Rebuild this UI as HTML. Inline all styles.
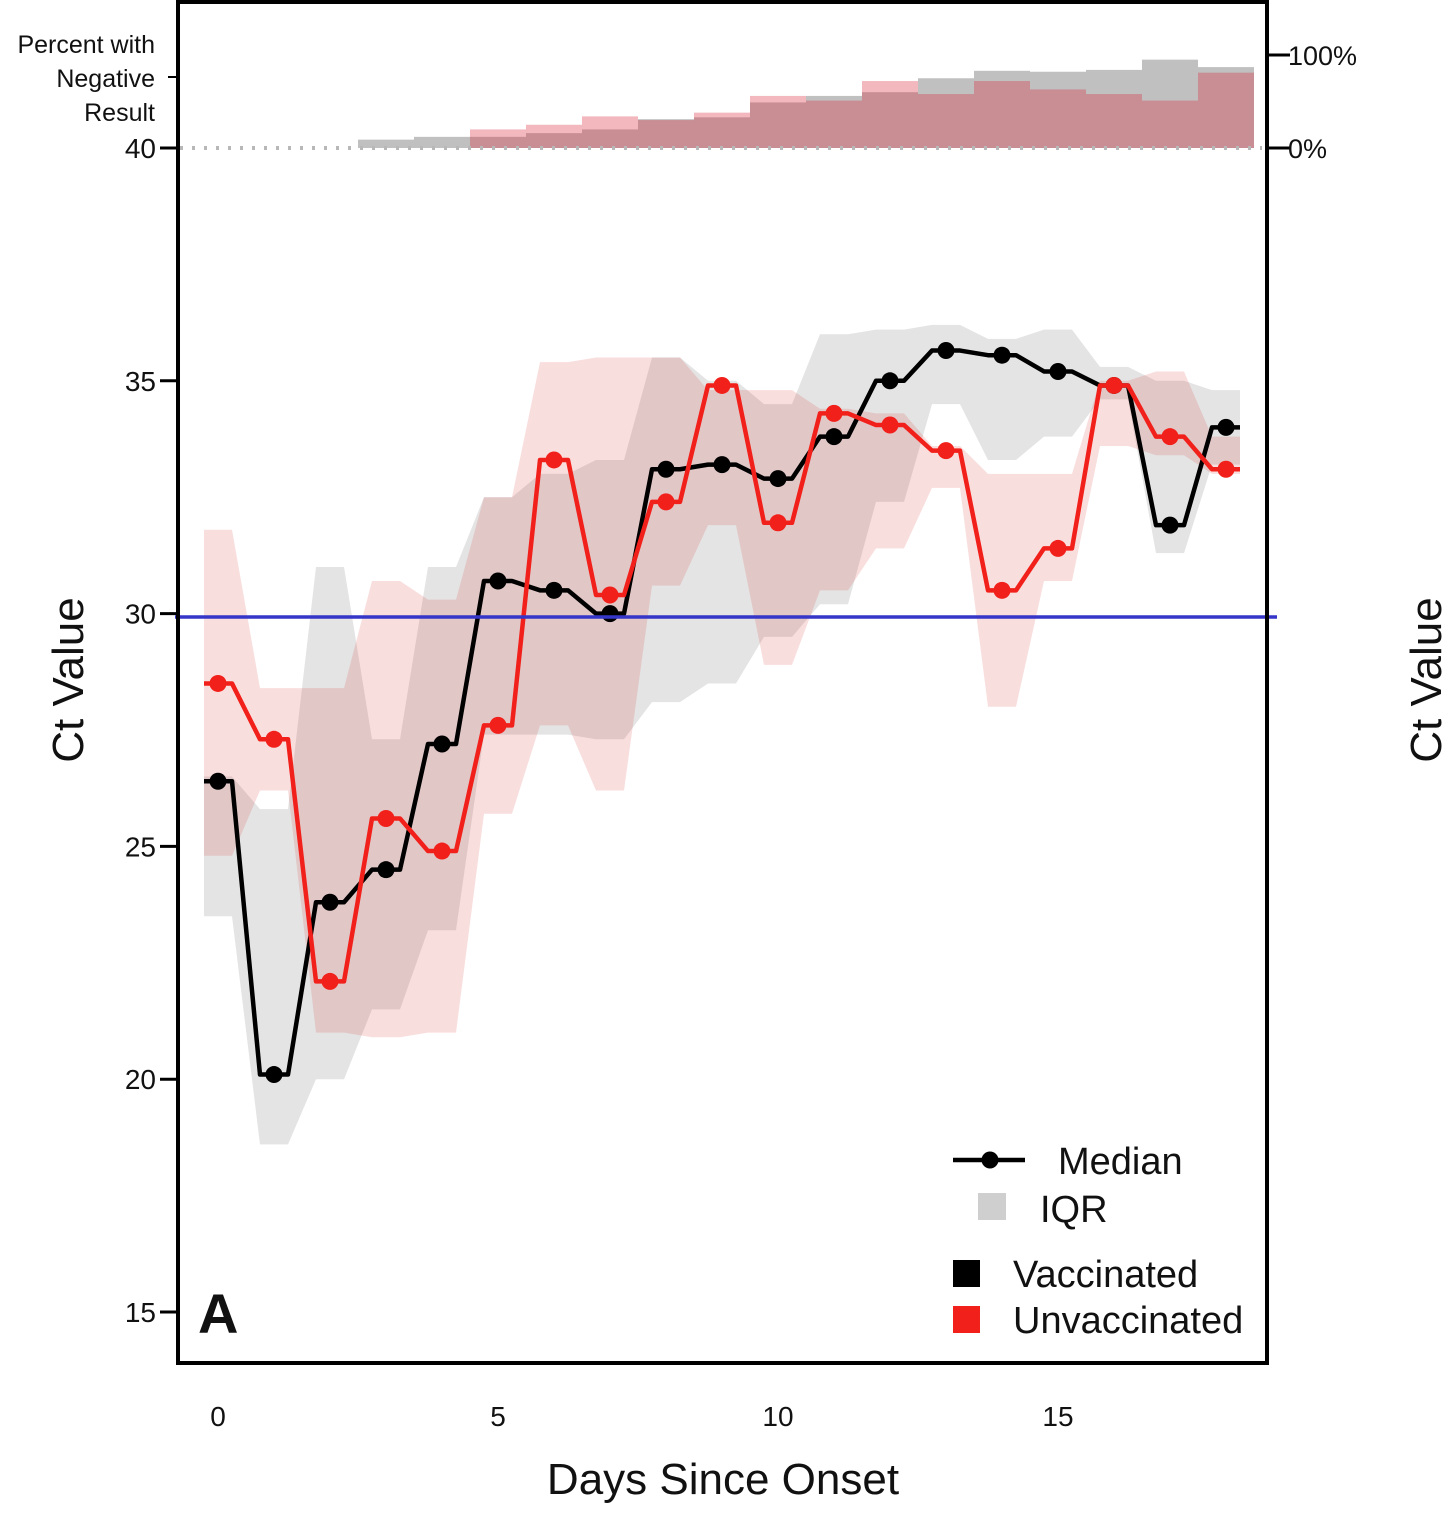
<!DOCTYPE html>
<html><head><meta charset="utf-8"><style>
html,body{margin:0;padding:0;background:#fff;}
svg text{font-family:"Liberation Sans",Arial,sans-serif;fill:#111;}
</style></head><body>
<svg id="chart" width="1456" height="1519" viewBox="0 0 1456 1519" xmlns="http://www.w3.org/2000/svg">
<g id="bands"></g>
<g id="hist"></g>
<line x1="180" y1="148" x2="1262" y2="148" stroke="#b8b8b8" stroke-width="4" stroke-dasharray="3,9"/>
<g id="lines"></g>
<line x1="175" y1="617" x2="1277" y2="617" stroke="#3535c8" stroke-width="3.5"/>
<rect x="178" y="2" width="1089" height="1361" fill="none" stroke="#000" stroke-width="4"/>
<g id="axes"></g>
<g font-size="25" text-anchor="end">
<text x="155" y="53">Percent with</text><text x="155" y="87">Negative</text><text x="155" y="121">Result</text></g>
<text x="723" y="1494" font-size="44" text-anchor="middle">Days Since Onset</text>
<text transform="translate(83,680) rotate(-90)" font-size="44" text-anchor="middle">Ct Value</text>
<text transform="translate(1441,680) rotate(-90)" font-size="44" text-anchor="middle">Ct Value</text>
<text x="198" y="1333" font-size="56" font-weight="bold">A</text>
<g>
<line x1="953" y1="1160" x2="1025" y2="1160" stroke="#000" stroke-width="4.5"/>
<circle cx="990" cy="1160" r="8.5" fill="#000"/>
<text x="1058" y="1174" font-size="38">Median</text>
<rect x="978" y="1193" width="28" height="27" fill="#cfcfcf"/>
<text x="1040" y="1222" font-size="38">IQR</text>
<rect x="953" y="1260" width="27" height="27" fill="#000"/>
<text x="1013" y="1287" font-size="38">Vaccinated</text>
<rect x="953" y="1306" width="27" height="27" fill="#f2201a"/>
<text x="1013" y="1333" font-size="38">Unvaccinated</text>
</g>
</svg>
<script>
const days=[0,1,2,3,4,5,6,7,8,9,10,11,12,13,14,15,16,17,18];
const vaxMedian=[26.4,20.1,23.8,24.5,27.2,30.7,30.5,30.0,33.1,33.2,32.9,33.8,35.0,35.65,35.55,35.2,34.9,31.9,34.0];
const unvaxMedian=[28.5,27.3,22.1,25.6,24.9,27.6,33.3,30.4,32.4,34.9,31.95,34.3,34.05,33.5,30.5,31.4,34.9,33.8,33.1];
const vaxQ1=[23.5,18.6,20.0,21.5,23.2,27.4,27.4,27.3,28.1,28.5,29.5,30.2,32.4,34.5,33.3,33.8,34.6,31.3,33.2];
const vaxQ3=[26.5,25.8,31.0,27.3,31.0,32.5,33.0,33.3,35.5,35.0,34.5,36.0,36.1,36.2,35.9,36.1,35.3,35.0,34.8];
const unvaxQ1=[24.8,26.2,21.0,20.9,21.0,25.7,27.6,26.2,30.6,31.9,28.9,30.5,31.4,32.7,28.0,30.7,33.6,33.4,33.0];
const unvaxQ3=[31.8,28.4,28.4,30.7,30.3,32.5,35.4,35.5,35.5,34.8,34.8,34.4,34.3,33.6,33.0,33.0,35.0,35.2,33.8];
const histDays=[3,4,5,6,7,8,9,10,11,12,13,14,15,16,17,18];
const vaxNeg=[9,12,12,16,20,31,33,49,56,60,75,83,82,84,95,87];
const unvaxNeg=[0,0,20,25,34,30,38,56,51,72,58,72,63,58,51,81];
const yTicks=[15,20,25,30,35,40];
const xTicks=[0,5,10,15];
const X=d=>218+56*d;
const Y=v=>148+(40-v)*46.56;
const P=p=>148-p*0.93;
const NS="http://www.w3.org/2000/svg";
function mk(tag,attrs,parent){const e=document.createElementNS(NS,tag);for(const k in attrs)e.setAttribute(k,attrs[k]);parent.appendChild(e);return e;}
function stepPts(vals){const pts=[];days.forEach((d,i)=>{pts.push([X(d-0.25),Y(vals[i])]);pts.push([X(d+0.25),Y(vals[i])]);});return pts;}
const bands=document.getElementById('bands');
function band(q1,q3,fill,name){const top=stepPts(q3),bot=stepPts(q1).reverse();
const p=mk('polygon',{points:top.concat(bot).map(a=>a.join(',')).join(' '),fill:fill},bands);

}
band(vaxQ1,vaxQ3,'#e4e4e4','iqr-vaccinated');
band(unvaxQ1,unvaxQ3,'rgba(220,60,60,0.17)','iqr-unvaccinated');
const hist=document.getElementById('hist');
histDays.forEach((d,i)=>{const r=mk('rect',{x:X(d-0.5),y:P(vaxNeg[i]),width:56,height:148-P(vaxNeg[i]),fill:'#c0c0c0'},hist);

});
histDays.forEach((d,i)=>{if(!unvaxNeg[i])return;const r=mk('rect',{x:X(d-0.5),y:P(unvaxNeg[i]),width:56,height:148-P(unvaxNeg[i]),fill:'rgba(215,40,55,0.33)'},hist);

});
const lines=document.getElementById('lines');
function series(vals,color,name){const pl=mk('polyline',{points:stepPts(vals).map(a=>a.join(',')).join(' '),fill:'none',stroke:color,'stroke-width':4.5,'stroke-linejoin':'round'},lines);


days.forEach((d,i)=>{const c=mk('circle',{cx:X(d),cy:Y(vals[i]),r:8.5,fill:color},lines);

});}
series(vaxMedian,'#000','median-vaccinated');
series(unvaxMedian,'#f2201a','median-unvaccinated');
const axes=document.getElementById('axes');
yTicks.forEach(v=>{mk('line',{x1:160,y1:Y(v),x2:178,y2:Y(v),stroke:'#000','stroke-width':3},axes);
const t=mk('text',{x:156,y:Y(v)+10,'font-size':28,'text-anchor':'end'},axes);t.textContent=v;

});
mk('line',{x1:168,y1:77,x2:178,y2:77,stroke:'#000','stroke-width':2},axes);
xTicks.forEach(v=>{const t=mk('text',{x:X(v),y:1426,'font-size':28,'text-anchor':'middle'},axes);t.textContent=v;

});
[[100,'100%'],[0,'0%']].forEach(([p,l])=>{mk('line',{x1:1267,y1:P(p),x2:1290,y2:P(p),stroke:'#000','stroke-width':3},axes);
const t=mk('text',{x:1288,y:P(p)+10,'font-size':27},axes);t.textContent=l;

});
</script>
</body></html>
